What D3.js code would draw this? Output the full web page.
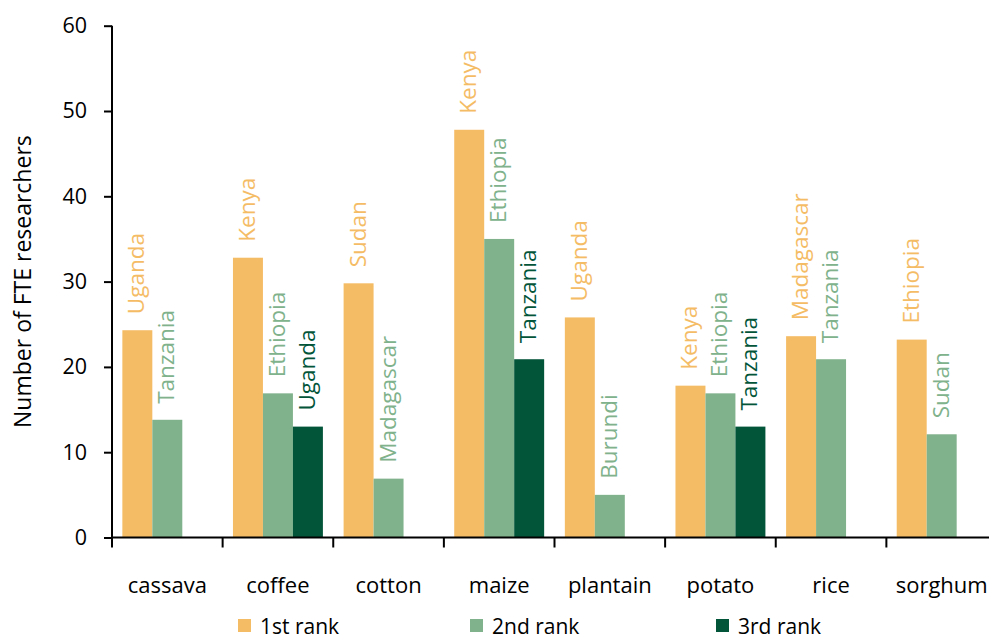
<!DOCTYPE html>
<html>
<head>
<meta charset="utf-8">
<script src="https://cdn.jsdelivr.net/npm/d3@7"></script>
<style>
  html, body { margin: 0; padding: 0; background: #fff; }
  svg { display: block; font-family: "Open Sans", "Noto Sans", sans-serif; }
</style>
</head>
<body>
<svg id="chart" width="989" height="639"></svg>
<script>
// Crops and the number of FTE researchers in the top three countries for each
const categories = ["cassava", "coffee", "cotton", "maize", "plantain", "potato", "rice", "sorghum"];
const seriesNames = ["1st rank", "2nd rank", "3rd rank"];
const rank1Values = [24.3, 32.8, 29.8, 47.8, 25.8, 17.8, 23.6, 23.2];
const rank2Values = [13.8, 16.9, 6.9, 35.0, 5.0, 16.9, 20.9, 12.1];
const rank3Values = [null, 13.0, null, 20.9, null, 13.0, null, null];
const rank1Countries = ["Uganda", "Kenya", "Sudan", "Kenya", "Uganda", "Kenya", "Madagascar", "Ethiopia"];
const rank2Countries = ["Tanzania", "Ethiopia", "Madagascar", "Ethiopia", "Burundi", "Ethiopia", "Tanzania", "Sudan"];
const rank3Countries = [null, "Uganda", null, "Tanzania", null, "Tanzania", null, null];
const yTickValues = [0, 10, 20, 30, 40, 50, 60];
const yTitle = "Number of FTE researchers";
const colors = ["#F5BC66", "#80B28B", "#03553A"];

const values = [rank1Values, rank2Values, rank3Values];
const countries = [rank1Countries, rank2Countries, rank3Countries];

const svg = d3.select("#chart");

const x0 = d3.scaleBand().domain(categories).range([112, 997]).paddingInner(0).paddingOuter(0);
const x1 = d3.scaleBand().domain([0, 1, 2]).range([0, x0.bandwidth()]).paddingInner(0).paddingOuter(0.345);
const y = d3.scaleLinear().domain([0, 60]).range([537.5, 25.7]);

// Bars and the rotated country labels above them
const groups = svg.append("g").selectAll("g")
  .data(categories)
  .join("g")
  .attr("transform", d => `translate(${x0(d)},0)`);

groups.each(function(cat, i) {
  const g = d3.select(this);
  for (let s = 0; s < 3; s++) {
    const v = values[s][i];
    if (v == null) continue;
    g.append("rect")
      .attr("x", x1(s))
      .attr("y", y(v))
      .attr("width", x1.bandwidth())
      .attr("height", y(0) - y(v))
      .attr("fill", colors[s]);
    const cx = x1(s) + x1.bandwidth() / 2 + 7;
    const cy = y(v) - 16;
    g.append("text")
      .attr("transform", `translate(${cx},${cy}) rotate(-90)`)
      .attr("fill", colors[s])
      .attr("font-size", 22.5)
      .attr("font-weight", s === 2 ? 500 : 400)
      .text(countries[s][i]);
  }
});

// Y axis
const yAxis = d3.axisLeft(y).tickValues(yTickValues).tickSize(8).tickPadding(17);
const yg = svg.append("g").attr("transform", "translate(112,0)").call(yAxis);
yg.select(".domain").attr("stroke", "#000").attr("stroke-width", 2).attr("d", `M0,${y(60)}V${y(0)}`);
yg.selectAll(".tick line").attr("stroke", "#000").attr("stroke-width", 2);
yg.selectAll(".tick text").attr("font-size", 21.5).attr("fill", "#000").attr("font-family", "Open Sans, sans-serif");

// X axis with ticks at the band boundaries
const xg = svg.append("g");
xg.append("line")
  .attr("x1", 111).attr("x2", 999)
  .attr("y1", y(0)).attr("y2", y(0))
  .attr("stroke", "#000").attr("stroke-width", 2);
const boundaries = categories.map(c => x0(c)).concat([x0(categories[categories.length - 1]) + x0.bandwidth()]);
xg.selectAll("line.tk").data(boundaries).join("line")
  .attr("class", "tk")
  .attr("x1", d => d).attr("x2", d => d)
  .attr("y1", y(0)).attr("y2", y(0) + 10)
  .attr("stroke", "#000").attr("stroke-width", 2);
xg.selectAll("text").data(categories).join("text")
  .attr("x", d => x0(d) + x0.bandwidth() / 2)
  .attr("y", 593)
  .attr("text-anchor", "middle")
  .attr("font-size", 22)
  .attr("fill", "#000")
  .text(d => d);

// Y axis title
svg.append("text")
  .attr("transform", `translate(31,${(y(0) + y(60)) / 2}) rotate(-90)`)
  .attr("text-anchor", "middle")
  .attr("font-size", 23)
  .attr("fill", "#000")
  .text(yTitle);

// Legend
const legendX = [238, 470, 716];
const legend = svg.append("g").selectAll("g").data(seriesNames).join("g")
  .attr("transform", (d, i) => `translate(${legendX[i]},619)`);
legend.append("rect").attr("width", 13).attr("height", 13).attr("fill", (d, i) => colors[i]);
legend.append("text")
  .attr("x", 22).attr("y", 14.5)
  .attr("font-size", 21)
  .attr("fill", "#000")
  .text(d => d);
</script>
</body>
</html>
